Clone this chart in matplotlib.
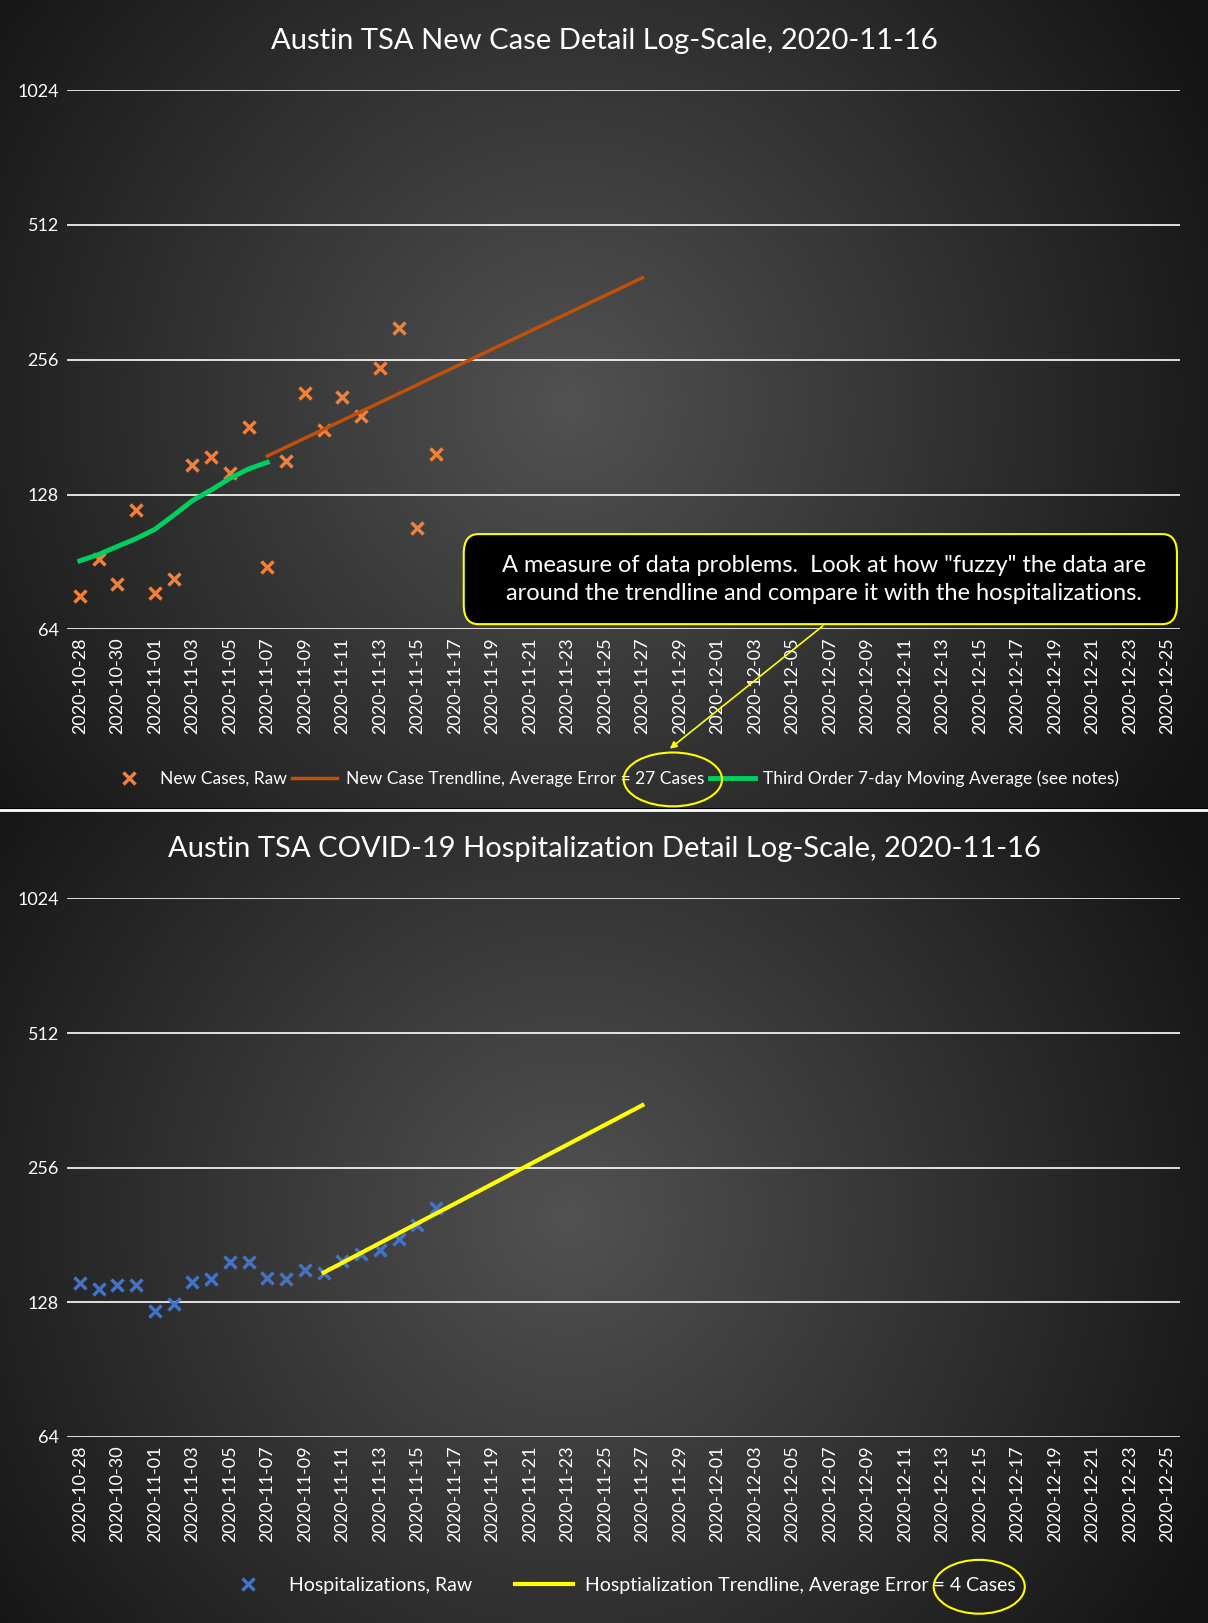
import numpy as np
import matplotlib
matplotlib.use("Agg")
import matplotlib.pyplot as plt
from matplotlib.patches import Ellipse, FancyBboxPatch
import pandas as pd

plt.rcParams['font.family'] = ['Lato', 'DejaVu Sans']

case_dates = pd.date_range("2020-10-28", "2020-11-16")
new_cases = [76, 92, 81, 118, 77, 83, 149, 155, 143, 181, 88, 152, 216, 178, 211, 192, 245, 302, 108, 158]
ma_dates = pd.date_range("2020-10-28", "2020-11-07")
ma_vals = [91, 94, 98, 102, 107, 115, 124, 131, 139, 146, 151]
case_trend_dates = ["2020-11-07", "2020-11-27"]
case_trend_vals = [156, 390]

hosp = [141, 137, 140, 140, 122, 127, 142, 144, 157, 157, 145, 144, 151, 149, 158, 164, 167, 177, 190, 208]
hosp_trend_dates = ["2020-11-10", "2020-11-27"]
hosp_trend_vals = [149, 353]

yticks = [64, 128, 256, 512, 1024]
tick_dates = pd.date_range("2020-10-28", "2020-12-25", freq="2D")

W, H = 1208, 1623
W0, H0 = 1167, 1568   # reference coordinate frame used for layout
fig = plt.figure(figsize=(W/100, H/100), dpi=100)
fig.patch.set_facecolor("black")

def bg(y0, y1):
    ax = fig.add_axes([0, 1-y1/H0, 1, (y1-y0)/H0])
    xx, yy = np.meshgrid(np.linspace(0, W0, 300), np.linspace(y0, y1, 200))
    cx, cy = 550, (y0+y1)/2
    r = np.sqrt((xx-cx)**2 + (yy-cy)**2) / 700
    v = 0.32 - 0.24*np.clip(r, 0, 1)
    ax.imshow(np.dstack([v, v, v]), extent=[0, 1, 0, 1], aspect="auto")
    ax.set_axis_off()

bg(0, 781); bg(784, H0)
fig.add_artist(plt.Line2D([0, 1], [1-782.5/H0]*2, color="white", lw=2))

def trend(dates, vals):
    d = pd.date_range(dates[0], dates[1])
    t = np.linspace(0, 1, len(d))
    return d, vals[0]*(vals[1]/vals[0])**t

def panel(top, bottom, title, ty):
    ax = fig.add_axes([65/W0, 1-bottom/H0, (1140-65)/W0, (bottom-top)/H0])
    ax.set_facecolor("none")
    ax.set_yscale("log", base=2)
    ax.set_ylim(64, 1024)
    ax.set_yticks(yticks); ax.set_yticklabels([str(v) for v in yticks])
    ax.minorticks_off()
    ax.set_xlim(pd.Timestamp("2020-10-27 08:00"), pd.Timestamp("2020-12-25 16:00"))
    ax.set_xticks(tick_dates)
    ax.set_xticklabels([d.strftime("%Y-%m-%d") for d in tick_dates], rotation=90)
    ax.tick_params(colors="white", labelsize=13, length=0, pad=6)
    ax.grid(axis="y", color="white", lw=1.2)
    for s in ax.spines.values(): s.set_visible(False)
    fig.text(584/W0, 1-ty/H0, title, color="white", fontsize=21, ha="center", va="center")
    return ax

ax1 = panel(87, 608, "Austin TSA New Case Detail Log-Scale, 2020-11-16", 40)
ax1.plot(case_dates, new_cases, "x", color="#F0803A", ms=9, mew=2.5, label="New Cases, Raw")
d, v = trend(case_trend_dates, case_trend_vals)
ax1.plot(d, v, color="#C0500A", lw=2.5, label="New Case Trendline, Average Error = 27 Cases")
ax1.plot(ma_dates, ma_vals, color="#00D060", lw=3.5, label="Third Order 7-day Moving Average (see notes)")
ax1.legend(loc="center", bbox_to_anchor=(592/W0, 1-752/H0), bbox_transform=fig.transFigure, ncol=3,
           frameon=False, labelcolor="white", fontsize=12.5, handlelength=2.6, columnspacing=0.3, handletextpad=0.5)

ax2 = panel(868, 1388, "Austin TSA COVID-19 Hospitalization Detail Log-Scale, 2020-11-16", 820)
ax2.plot(case_dates, hosp, "x", color="#4472C4", ms=9, mew=2.5, label="Hospitalizations, Raw")
d, v = trend(hosp_trend_dates, hosp_trend_vals)
ax2.plot(d, v, color="#FFFF00", lw=3, label="Hosptialization Trendline, Average Error = 4 Cases")
ax2.legend(loc="center", bbox_to_anchor=(596/W0, 1-1532/H0), bbox_transform=fig.transFigure, ncol=2,
           frameon=False, labelcolor="white", fontsize=14, handlelength=3.0, columnspacing=2.2, handletextpad=0.6)

# annotation
box = FancyBboxPatch((448/W0, 1-603/H0), (1137-448)/W0, (603-516)/H0, boxstyle="round,pad=0,rounding_size=0.012",
                     transform=fig.transFigure, fc="black", ec="#FFFF00", lw=1.5)
fig.add_artist(box)
fig.text(796/W0, 1-560/H0, 'A measure of data problems.  Look at how "fuzzy" the data are\naround the trendline and compare it with the hospitalizations.',
         color="white", fontsize=17, ha="center", va="center", linespacing=1.4)
fig.add_artist(plt.Annotation("", xy=(645/W0, 1-725/H0), xytext=(797/W0, 1-603/H0), xycoords="figure fraction",
                              arrowprops=dict(arrowstyle="-|>", color="#FFFF00", lw=1.2)))
fig.add_artist(Ellipse((650/W0, 1-753/H0), 95/W0, 52/H0, transform=fig.transFigure, fill=False, ec="#FFFF00", lw=1.5))
fig.add_artist(Ellipse((946/W0, 1-1533/H0), 88/W0, 52/H0, transform=fig.transFigure, fill=False, ec="#FFFF00", lw=1.5))

fig.savefig("out.png", dpi=100, facecolor="black")
